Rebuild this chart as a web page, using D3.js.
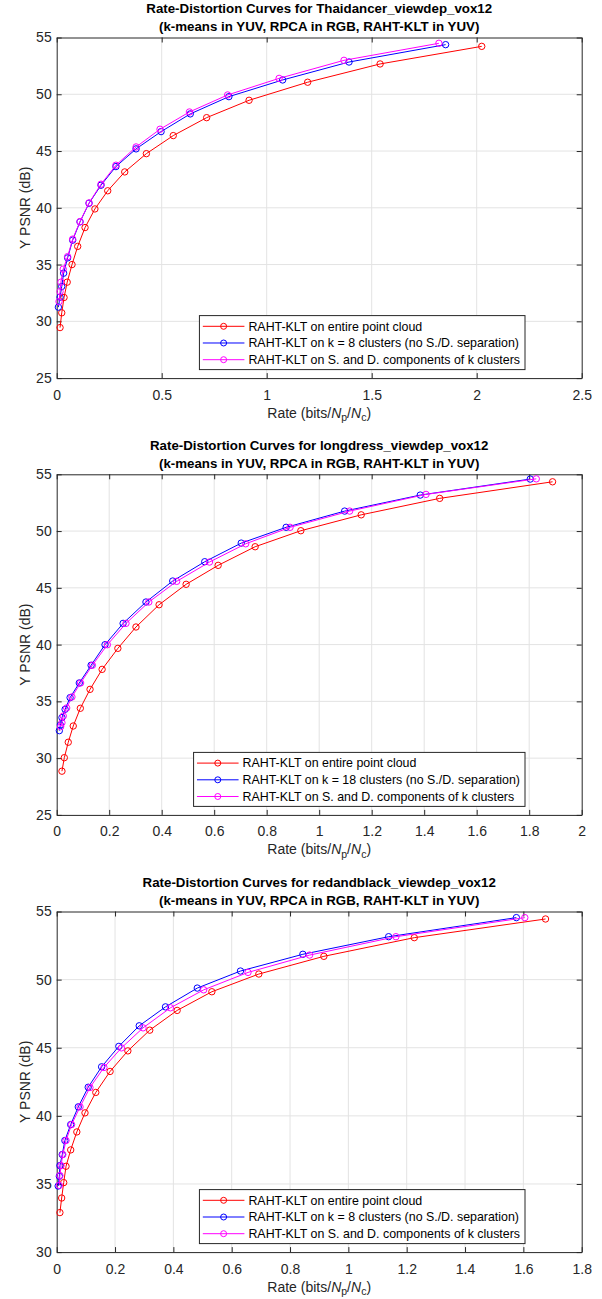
<!DOCTYPE html>
<html lang="en">
<head>
<meta charset="UTF-8" />
<title>Rate-Distortion Curves</title>
<script src="https://cdnjs.cloudflare.com/ajax/libs/d3/7.8.5/d3.min.js"></script>
<style>
  body { margin: 0; background: #fff; }
  svg { display: block; font-family: "Liberation Sans", Arial, Helvetica, sans-serif; }
</style>
</head>
<body>
<svg id="chart" width="602" height="1299"></svg>
<script>
// points, [rate, Y PSNR]
const thaiEntire = [[0.016,29.45],[0.024,30.75],[0.035,32.1],[0.05,33.45],[0.073,35.0],[0.1,36.6],[0.135,38.26],[0.182,39.9],[0.243,41.5],[0.324,43.16],[0.427,44.77],[0.555,46.36],[0.714,47.94],[0.916,49.47],[1.195,51.06],[1.54,52.67],[2.024,54.22]];
const thaiClusters = [[0.008,31.25],[0.016,32.13],[0.024,33.07],[0.033,34.24],[0.052,35.59],[0.076,37.15],[0.111,38.76],[0.154,40.4],[0.211,41.99],[0.282,43.63],[0.378,45.19],[0.497,46.71],[0.636,48.27],[0.82,49.79],[1.076,51.26],[1.392,52.84],[1.852,54.37]];
const thaiSD = [[0.011,31.74],[0.016,32.62],[0.02,33.45],[0.031,34.6],[0.052,35.7],[0.076,37.24],[0.111,38.79],[0.154,40.43],[0.211,42.08],[0.282,43.75],[0.378,45.36],[0.492,46.92],[0.632,48.44],[0.814,49.94],[1.059,51.4],[1.368,52.99],[1.82,54.49]];

const longEntire = [[0.02,28.85],[0.029,30.04],[0.044,31.4],[0.063,32.83],[0.09,34.39],[0.127,36.06],[0.173,37.82],[0.233,39.67],[0.302,41.55],[0.39,43.51],[0.493,45.31],[0.615,46.98],[0.756,48.62],[0.93,50.03],[1.16,51.43],[1.459,52.88],[1.889,54.34]];
const longClusters = [[0.01,32.42],[0.014,32.92],[0.02,33.57],[0.032,34.3],[0.051,35.33],[0.086,36.62],[0.131,38.18],[0.184,39.99],[0.253,41.87],[0.34,43.75],[0.442,45.6],[0.564,47.3],[0.703,48.94],[0.874,50.33],[1.097,51.76],[1.385,53.17],[1.804,54.58]];
const longSD = [[0.015,32.77],[0.02,33.12],[0.025,33.71],[0.038,34.42],[0.058,35.39],[0.091,36.62],[0.136,38.18],[0.193,39.99],[0.264,41.87],[0.351,43.75],[0.457,45.57],[0.582,47.27],[0.72,48.88],[0.889,50.33],[1.116,51.76],[1.407,53.23],[1.827,54.6]];

const redEntire = [[0.011,32.9],[0.017,33.97],[0.024,35.1],[0.032,36.3],[0.048,37.5],[0.069,38.82],[0.097,40.22],[0.134,41.72],[0.183,43.26],[0.244,44.77],[0.319,46.29],[0.413,47.74],[0.532,49.11],[0.693,50.41],[0.916,51.71],[1.226,53.08],[1.676,54.45]];
const redClusters = [[0.005,34.85],[0.009,35.57],[0.011,36.35],[0.019,37.16],[0.028,38.19],[0.048,39.36],[0.074,40.66],[0.108,42.1],[0.154,43.6],[0.213,45.1],[0.283,46.61],[0.373,48.0],[0.482,49.38],[0.63,50.63],[0.844,51.86],[1.138,53.15],[1.576,54.55]];
const redSD = [[0.009,34.9],[0.011,35.62],[0.015,36.35],[0.021,37.16],[0.032,38.19],[0.051,39.36],[0.08,40.66],[0.114,42.08],[0.162,43.55],[0.222,44.99],[0.296,46.46],[0.39,47.93],[0.504,49.25],[0.656,50.53],[0.867,51.8],[1.163,53.15],[1.605,54.55]];

const thaiXTicks = [0, 0.5, 1, 1.5, 2, 2.5];
const longXTicks = [0, 0.2, 0.4, 0.6, 0.8, 1, 1.2, 1.4, 1.6, 1.8, 2];
const redXTicks = [0, 0.2, 0.4, 0.6, 0.8, 1, 1.2, 1.4, 1.6, 1.8];
const psnrTicks = [25, 30, 35, 40, 45, 50, 55];
const psnrTicksRed = [30, 35, 40, 45, 50, 55];

const seriesColors = ['#ff0000', '#0000ff', '#ff00ff'];
const subtitle = '(k-means in YUV, RPCA in RGB, RAHT-KLT in YUV)';

const panels = [
  { name: 'Thaidancer_viewdep_vox12', series: [thaiEntire, thaiClusters, thaiSD], k: 8, xTicks: thaiXTicks, yTicks: psnrTicks, top: 37.5 },
  { name: 'longdress_viewdep_vox12', series: [longEntire, longClusters, longSD], k: 18, xTicks: longXTicks, yTicks: psnrTicks, top: 474.3 },
  { name: 'redandblack_viewdep_vox12', series: [redEntire, redClusters, redSD], k: 8, xTicks: redXTicks, yTicks: psnrTicksRed, top: 911.5 }
];

const svg = d3.select('#chart');
const left = 56.7, right = 581.7, plotH = 340.6;
const ink = '#262626';

panels.forEach(p => {
  const bottom = p.top + plotH;
  const x = d3.scaleLinear().domain([0, p.xTicks[p.xTicks.length - 1]]).range([left, right]);
  const y = d3.scaleLinear().domain([p.yTicks[0], p.yTicks[p.yTicks.length - 1]]).range([bottom, p.top]);
  const g = svg.append('g');

  // grid
  g.append('g')
    .selectAll('line.gx')
    .data(p.xTicks.slice(1, -1))
    .join('line')
    .attr('x1', d => x(d)).attr('x2', d => x(d))
    .attr('y1', p.top).attr('y2', bottom)
    .attr('stroke', '#e3e3e3');
  g.append('g')
    .selectAll('line.gy')
    .data(p.yTicks.slice(1, -1))
    .join('line')
    .attr('x1', left).attr('x2', right)
    .attr('y1', d => y(d)).attr('y2', d => y(d))
    .attr('stroke', '#e3e3e3');

  // axes, ticks pointing inward on all four sides
  const axes = [
    g.append('g').attr('transform', `translate(0,${bottom})`)
      .call(d3.axisBottom(x).tickValues(p.xTicks).tickSize(-5).tickSizeOuter(0).tickPadding(11.5).tickFormat(d => String(d))),
    g.append('g').attr('transform', `translate(0,${p.top})`)
      .call(d3.axisTop(x).tickValues(p.xTicks).tickSize(-5).tickSizeOuter(0).tickFormat('')),
    g.append('g').attr('transform', `translate(${left},0)`)
      .call(d3.axisLeft(y).tickValues(p.yTicks).tickSize(-5).tickSizeOuter(0).tickPadding(5).tickFormat(d => String(d))),
    g.append('g').attr('transform', `translate(${right},0)`)
      .call(d3.axisRight(y).tickValues(p.yTicks).tickSize(-5).tickSizeOuter(0).tickFormat(''))
  ];
  axes.forEach(a => {
    a.attr('font-family', null).attr('font-size', 14);
    a.selectAll('path, line').attr('stroke', ink);
    a.selectAll('text').attr('fill', ink);
  });

  // curves
  const line = d3.line().x(d => x(d[0])).y(d => y(d[1]));
  p.series.forEach((s, i) => {
    g.append('path')
      .datum(s)
      .attr('d', line)
      .attr('fill', 'none')
      .attr('stroke', seriesColors[i])
      .attr('stroke-width', 1);
    g.append('g')
      .selectAll('circle')
      .data(s)
      .join('circle')
      .attr('cx', d => x(d[0]))
      .attr('cy', d => y(d[1]))
      .attr('r', 3.2)
      .attr('fill', 'none')
      .attr('stroke', seriesColors[i])
      .attr('stroke-width', 1);
  });

  // title
  const cx = (left + right) / 2;
  g.append('text').attr('x', cx).attr('y', p.top - 24.5)
    .attr('text-anchor', 'middle').attr('font-weight', 'bold').attr('font-size', 13.3).attr('fill', '#000')
    .text('Rate-Distortion Curves for ' + p.name);
  g.append('text').attr('x', cx).attr('y', p.top - 6.8)
    .attr('text-anchor', 'middle').attr('font-weight', 'bold').attr('font-size', 13.3).attr('fill', '#000')
    .text(subtitle);

  // axis labels
  const xl = g.append('text').attr('x', cx).attr('y', bottom + 39.5)
    .attr('text-anchor', 'middle').attr('font-size', 14).attr('fill', ink);
  xl.append('tspan').text('Rate (bits/');
  xl.append('tspan').attr('font-style', 'italic').text('N');
  xl.append('tspan').attr('font-size', 10.5).attr('dy', 3.5).text('p');
  xl.append('tspan').attr('dy', -3.5).text('/');
  xl.append('tspan').attr('font-style', 'italic').text('N');
  xl.append('tspan').attr('font-size', 10.5).attr('dy', 3.5).text('c');
  xl.append('tspan').attr('dy', -3.5).text(')');

  g.append('text')
    .attr('transform', `translate(30,${(p.top + bottom) / 2}) rotate(-90)`)
    .attr('text-anchor', 'middle').attr('font-size', 14).attr('fill', ink)
    .text('Y PSNR (dB)');

  // legend
  const labels = [
    'RAHT-KLT on entire point cloud',
    `RAHT-KLT on k = ${p.k} clusters (no S./D. separation)`,
    'RAHT-KLT on S. and D. components of k clusters'
  ];
  const lg = g.append('g');
  const box = lg.append('rect').attr('fill', '#fff').attr('stroke', ink).attr('stroke-width', 1);
  const texts = labels.map((t, i) =>
    lg.append('text').attr('y', 4.3 + i * 16.7).attr('font-size', 12.4).attr('fill', '#000').text(t));
  const maxW = d3.max(texts, t => t.node().getComputedTextLength());
  const boxW = 49 + maxW + 5, boxH = 54;
  const bx = right - 56.7 - boxW, by = bottom - 8.5 - boxH;
  lg.attr('transform', `translate(${bx},${by + 10.7})`);
  box.attr('x', 0).attr('y', -10.7).attr('width', boxW).attr('height', boxH);
  texts.forEach(t => t.attr('x', 49));
  labels.forEach((t, i) => {
    lg.append('line').attr('x1', 3.4).attr('x2', 45).attr('y1', i * 16.7).attr('y2', i * 16.7)
      .attr('stroke', seriesColors[i]).attr('stroke-width', 1);
    lg.append('circle').attr('cx', 24.2).attr('cy', i * 16.7).attr('r', 3)
      .attr('fill', 'none').attr('stroke', seriesColors[i]).attr('stroke-width', 1);
  });
});
</script>
</body>
</html>
